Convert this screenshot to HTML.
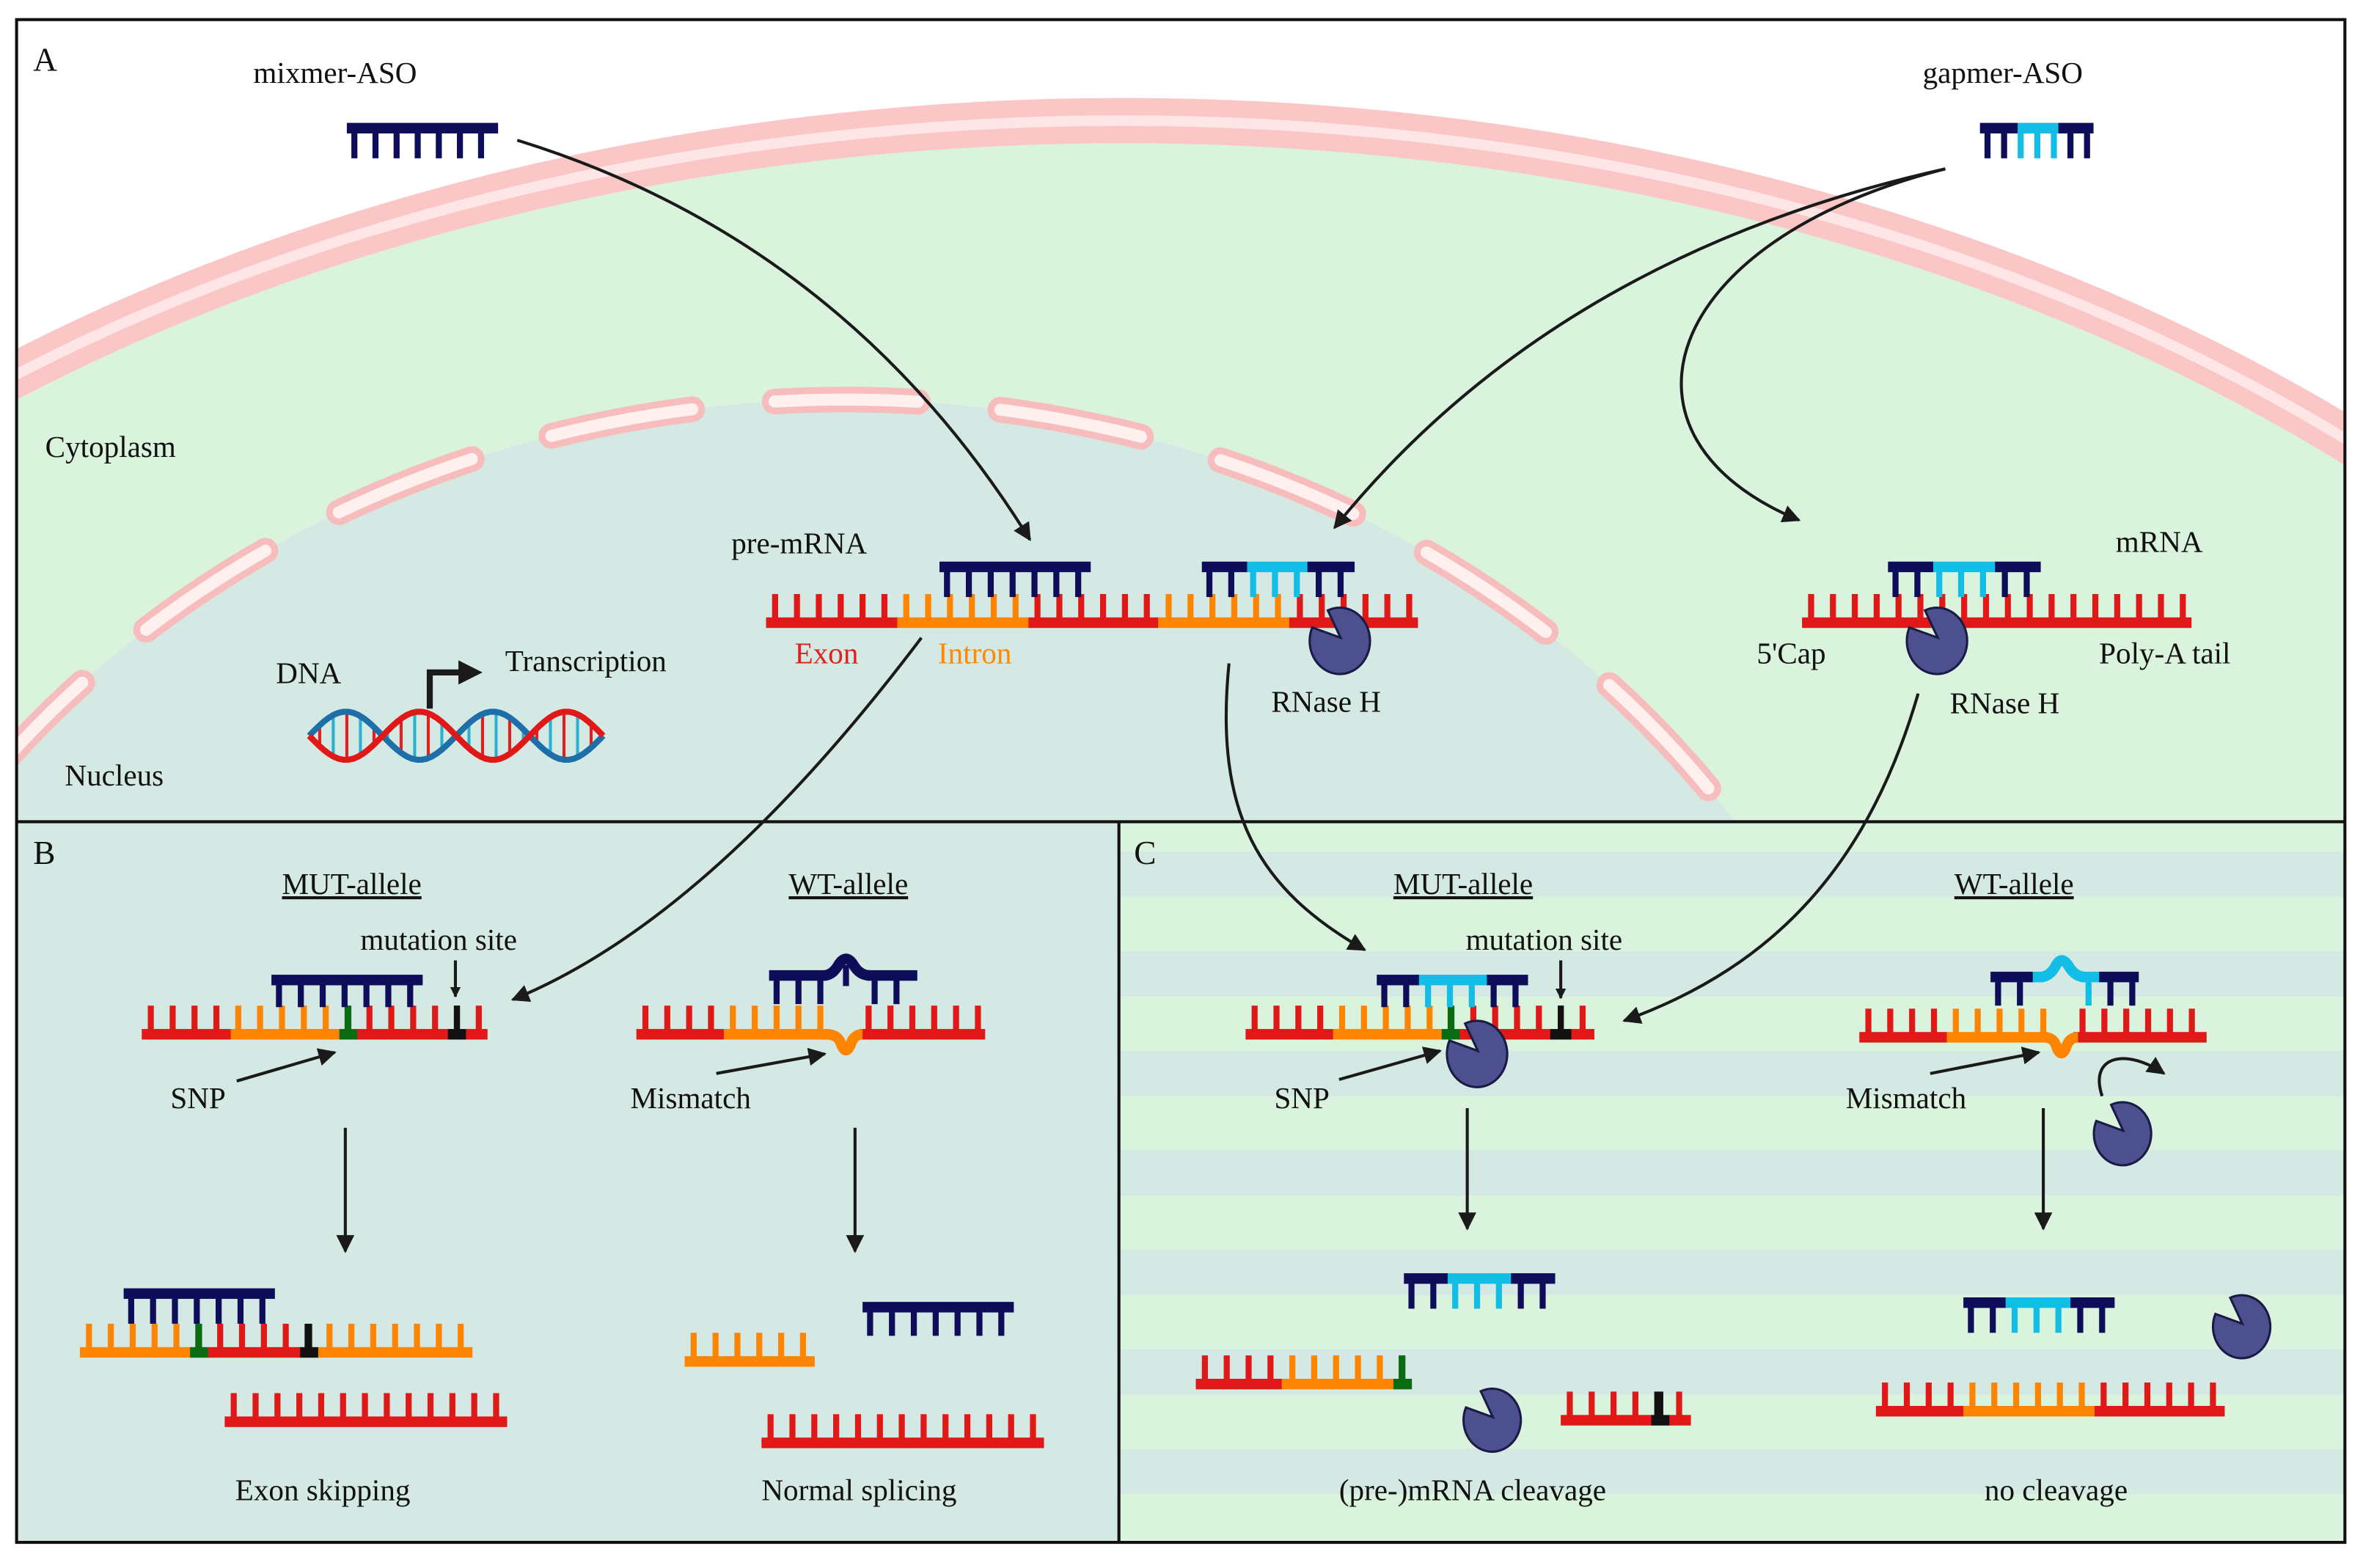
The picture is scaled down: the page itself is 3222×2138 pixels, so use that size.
<!DOCTYPE html>
<html><head><meta charset="utf-8">
<style>
html,body{margin:0;padding:0;background:#fff;width:3222px;height:2138px;overflow:hidden;}
svg{display:block;}
text{font-family:"Liberation Serif",serif;font-size:20px;fill:#111;}
</style></head>
<body>
<svg id="s" width="3222" height="2138" viewBox="0 0 1567 1040" preserveAspectRatio="none" xmlns="http://www.w3.org/2000/svg">
<defs>
<clipPath id="cA"><rect x="11" y="13" width="1544" height="532"/></clipPath>
<clipPath id="cC"><rect x="742" y="545" width="813" height="478"/></clipPath>
<marker id="ah" viewBox="0 0 10 10" refX="9" refY="5" markerWidth="7" markerHeight="7" orient="auto-start-reverse" markerUnits="userSpaceOnUse"><path d="M0,0 L10,5 L0,10 z" fill="#1a1a1a"/></marker>
<marker id="ahb" viewBox="0 0 10 10" refX="9" refY="5" markerWidth="12" markerHeight="12" orient="auto" markerUnits="userSpaceOnUse"><path d="M0,0 L10,5 L0,10 z" fill="#1a1a1a"/></marker>
</defs>
<rect width="1567" height="1040" fill="#fff"/>
<g clip-path="url(#cA)">
<rect x="11" y="13" width="1544" height="532" fill="#fff"/>
<ellipse cx="745" cy="910" rx="1216" ry="830" fill="#d9f3dc"/>
<ellipse cx="745" cy="910" rx="1216" ry="830" fill="none" stroke="#fbc6c6" stroke-width="30"/>
<ellipse cx="745" cy="910" rx="1216" ry="830" fill="none" stroke="#ffe6e6" stroke-width="7"/>
<ellipse cx="560" cy="900" rx="712" ry="635" fill="#d4e8e4"/>
<ellipse cx="560" cy="900" rx="712" ry="635" fill="none" stroke="#f7bcbc" stroke-width="17" stroke-dasharray="95 55" stroke-linecap="round" stroke-dashoffset="20"/>
<ellipse cx="560" cy="900" rx="712" ry="635" fill="none" stroke="#fff0f0" stroke-width="8" stroke-dasharray="95 55" stroke-linecap="round" stroke-dashoffset="20"/>
</g>
<rect x="11" y="545" width="731" height="478" fill="#d4e8e4"/>
<g clip-path="url(#cC)" id="stripes">
<rect x="742" y="545" width="813" height="478" fill="#d9f3dc"/>
</g>
<g id="shapes"></g>
<rect x="11" y="13" width="1544" height="1010" fill="none" stroke="#111" stroke-width="2"/>
<line x1="11" y1="545" x2="1555" y2="545" stroke="#111" stroke-width="2"/>
<line x1="742" y1="545" x2="742" y2="1023" stroke="#111" stroke-width="2"/>

<g fill="none" stroke="#1a1a1a" stroke-width="2">
<path d="M343,93 Q560,160 683,358" marker-end="url(#ahb)"/>
<path d="M1290,112 Q1030,170 885,350" marker-end="url(#ahb)"/>
<path d="M1290,112 C1100,160 1060,290 1193,345" marker-end="url(#ahb)"/>
<path d="M611,423 Q470,610 340,663" marker-end="url(#ahb)"/>
<path d="M815,440 C805,540 835,590 905,630" marker-end="url(#ahb)"/>
<path d="M1272,460 C1240,570 1180,640 1077,677" marker-end="url(#ahb)"/>
<path d="M302,637 L302,661" marker-end="url(#ah)"/>
<path d="M1035,637 L1035,662" marker-end="url(#ah)"/>
<path d="M157,717 L222,698" marker-end="url(#ahb)"/>
<path d="M475,712 L547,699" marker-end="url(#ahb)"/>
<path d="M888,716 L955,697" marker-end="url(#ahb)"/>
<path d="M1280,712 L1352,698" marker-end="url(#ahb)"/>
<path d="M1394,727 C1385,700 1410,695 1435,712" marker-end="url(#ahb)"/>
<path d="M229,748 L229,830" marker-end="url(#ahb)"/>
<path d="M567,748 L567,830" marker-end="url(#ahb)"/>
<path d="M973,735 L973,815" marker-end="url(#ahb)"/>
<path d="M1355,735 L1355,815" marker-end="url(#ahb)"/>
</g>
<path d="M285,470 L285,446 L306,446" fill="none" stroke="#1a1a1a" stroke-width="4"/>
<path d="M304,438 L320,446 L304,454 z" fill="#1a1a1a"/>

<text x="22" y="47" style="font-size:22px">A</text>
<text x="168" y="55">mixmer-ASO</text>
<text x="1275" y="55">gapmer-ASO</text>
<text x="30" y="303">Cytoplasm</text>
<text x="43" y="521">Nucleus</text>
<text x="183" y="453">DNA</text>
<text x="335" y="445">Transcription</text>
<text x="485" y="367">pre-mRNA</text>
<text x="527" y="440" style="fill:#e02020">Exon</text>
<text x="622" y="440" style="fill:#ff8a00">Intron</text>
<text x="843" y="472">RNase H</text>
<text x="1403" y="366">mRNA</text>
<text x="1165" y="440">5'Cap</text>
<text x="1392" y="440">Poly-A tail</text>
<text x="1293" y="473">RNase H</text>
<text x="22" y="573" style="font-size:22px">B</text>
<text x="187" y="593" text-decoration="underline">MUT-allele</text>
<text x="523" y="593" text-decoration="underline">WT-allele</text>
<text x="239" y="630">mutation site</text>
<text x="113" y="735">SNP</text>
<text x="418" y="735">Mismatch</text>
<text x="156" y="995">Exon skipping</text>
<text x="505" y="995">Normal splicing</text>
<text x="752" y="573" style="font-size:22px">C</text>
<text x="924" y="593" text-decoration="underline">MUT-allele</text>
<text x="1296" y="593" text-decoration="underline">WT-allele</text>
<text x="972" y="630">mutation site</text>
<text x="845" y="735">SNP</text>
<text x="1224" y="735">Mismatch</text>
<text x="888" y="995">(pre-)mRNA cleavage</text>
<text x="1316" y="995">no cleavage</text>
</svg>
<script>
var NS="http://www.w3.org/2000/svg";
var G=document.getElementById('shapes');
function el(t,a,p){var e=document.createElementNS(NS,t);for(var k in a)e.setAttribute(k,a[k]);(p||G).appendChild(e);return e;}
var R="#e01818",O="#ff8500",D="#0d0d5a",C="#12bde6",GR="#0a6b12",K="#111";
var st=document.getElementById('stripes');
for(var y=565;y<1023;y+=66){el('rect',{x:742,y:y,width:813,height:30,fill:"#d4e8e4"},st);}
function colorAt(segs,x){for(var i=0;i<segs.length;i++){if(x>=segs[i][0]&&x<segs[i][1])return segs[i][2];}return segs[segs.length-1][2];}
function rna(segs,y,sp,len){sp=sp||14.5;len=len||17;var x0=segs[0][0],x1=segs[segs.length-1][1];
 segs.forEach(function(s){el('rect',{x:s[0],y:y-3.5,width:s[1]-s[0]+0.3,height:7,fill:s[2]});});
 for(var x=x0+6;x<x1-2;x+=sp){el('rect',{x:x-2,y:y-len,width:4,height:len,fill:colorAt(segs,x)});}
}
function aso(segs,y,sp,len){sp=sp||14.5;len=len||14;var x0=segs[0][0],x1=segs[segs.length-1][1];
 segs.forEach(function(s){el('rect',{x:s[0],y:y-3.5,width:s[1]-s[0]+0.3,height:7,fill:s[2]});});
 for(var x=x0+5;x<x1-2;x+=sp){el('rect',{x:x-2,y:y,width:4,height:len,fill:colorAt(segs,x)});}
}
function pac(cx,cy,r){var a1=-160*Math.PI/180,a2=-115*Math.PI/180;
 var p1=[cx+r*Math.cos(a1),cy+r*Math.sin(a1)],p2=[cx+r*Math.cos(a2),cy+r*Math.sin(a2)];
 el('path',{d:"M"+cx+","+cy+" L"+p1[0]+","+p1[1]+" A"+r+","+r*1.1+" 0 1 0 "+p2[0]+","+p2[1]+" Z",fill:"#4d508f",stroke:"#1a1a45","stroke-width":1.5});}
(function(){var pr="",pb="";for(var i=0;i<=60;i++){var x=205+i*195/60;var yr=488+16*Math.sin((x-205)/195*4*Math.PI);var yb=488-16*Math.sin((x-205)/195*4*Math.PI);pr+=(i?"L":"M")+x+","+yr;pb+=(i?"L":"M")+x+","+yb;}
 for(var x=212;x<400;x+=9){var s=16*Math.sin((x-205)/195*4*Math.PI);el('line',{x1:x,y1:488-s,x2:x,y2:488+s,stroke:(x%2?"#2bb0d0":"#e02020"),"stroke-width":2});}
 el('path',{d:pb,fill:"none",stroke:"#1e6fa8","stroke-width":4});el('path',{d:pr,fill:"none",stroke:"#e01818","stroke-width":4});})();
aso([[230,330,D]],85,14,20);
aso([[1313,1338,D],[1338,1365,C],[1365,1388,D]],85,11,20);
rna([[508,595,R],[595,682,O],[682,768,R],[768,855,O],[855,940,R]],413,14.5,19);
aso([[623,723,D]],376,14.5,20);
aso([[797,827,D],[827,867,C],[867,898,D]],376,14.5,20);
pac(889,423,20);
rna([[1195,1453,R]],413,14.5,19);
aso([[1252,1282,D],[1282,1323,C],[1323,1353,D]],376,14.5,20);
pac(1285,423,20);
rna([[94,153,R],[153,225,O],[225,237,GR],[237,297,R],[297,309,K],[309,323,R]],686,14.5,19);
el('rect',{x:229,y:667,width:4,height:19,fill:GR});el('rect',{x:301,y:667,width:4,height:19,fill:K});
aso([[180,280,D]],650,14.5,18);
(function(){rna([[422,480,R],[480,550,O]],686,14.5,19);rna([[570,653,R]],686,14.5,19);
 el('path',{d:"M548,686 Q556,686 558,693 Q561,700 564,693 Q566,686 572,686",fill:"none",stroke:O,"stroke-width":7});
 aso([[510,548,D]],647,14.5,19);aso([[575,608,D]],647,14.5,19);
 el('path',{d:"M546,647 Q552,647 556,640 Q561,632 566,640 Q570,647 577,647",fill:"none",stroke:D,"stroke-width":7});
 el('rect',{x:559,y:640,width:4,height:14,fill:D});})();
aso([[82,182,D]],858,14.5,20);
rna([[53,126,O],[126,138,GR],[138,199,R],[199,211,K],[211,313,O]],897,14.5,19);
el('rect',{x:130,y:878,width:4,height:19,fill:GR});el('rect',{x:203,y:878,width:4,height:19,fill:K});
rna([[149,336,R]],943,14.5,19);
rna([[454,540,O]],903,14.5,19);
aso([[572,672,D]],867,14.5,19);
rna([[505,692,R]],957,14.5,19);
rna([[826,884,R],[884,956,O],[956,968,GR],[968,1028,R],[1028,1042,K],[1042,1057,R]],686,14.5,19);
el('rect',{x:960,y:667,width:4,height:19,fill:GR});el('rect',{x:1033,y:667,width:4,height:19,fill:K});
aso([[913,941,D],[941,986,C],[986,1013,D]],650,14.5,18);
pac(980,697,20);
(function(){rna([[1233,1291,R],[1291,1358,O]],688,14.5,19);rna([[1375,1463,R]],688,14.5,19);
 el('path',{d:"M1356,688 Q1362,688 1364,695 Q1367,702 1370,695 Q1372,688 1378,688",fill:"none",stroke:O,"stroke-width":7});
 aso([[1320,1348,D],[1348,1355,C]],648,14.5,19);aso([[1380,1392,C],[1392,1418,D]],648,14.5,19);
 el('path',{d:"M1353,648 Q1359,648 1363,641 Q1367,633 1372,641 Q1376,648 1383,648",fill:"none",stroke:C,"stroke-width":7});})();
pac(1408,750,19);
aso([[931,960,D],[960,1002,C],[1002,1031,D]],848,14.5,20);
rna([[793,850,R],[850,924,O],[924,936,GR]],918,14.5,19);
el('rect',{x:928,y:899,width:4,height:19,fill:GR});
pac(990,940,19);
rna([[1035,1095,R],[1095,1107,K],[1107,1121,R]],942,14.5,19);
el('rect',{x:1099,y:923,width:4,height:19,fill:K});
aso([[1302,1330,D],[1330,1373,C],[1373,1402,D]],864,14.5,20);
pac(1487,878,19);
rna([[1244,1302,R],[1302,1389,O],[1389,1475,R]],936,14.5,19);
</script>
</body></html>
